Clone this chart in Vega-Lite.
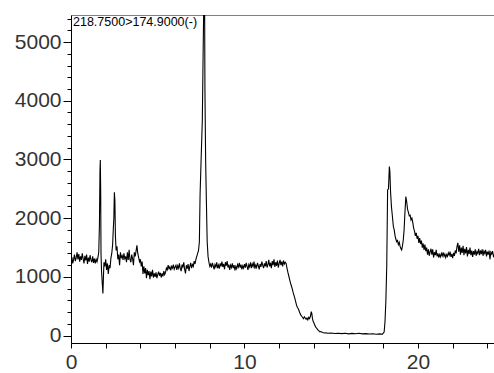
{
"$schema":"https://vega.github.io/schema/vega-lite/v6.json",
"width":424,"height":328,
"autosize":{"type":"none"},
"padding":{"left":71,"top":15,"right":0,"bottom":30},
"background":"white",
"config":{"view":{"stroke":"#808080","strokeWidth":1},
"axis":{"grid":false,"title":null,"domainColor":"#000","tickColor":"#000","labelFont":"Liberation Sans","labelFontSize":21,"labelColor":"#333","labelOverlap":false,"labelFlush":false,"format":"d","tickCount":200}},
"layer":[
{"data":{"values":[
{"t":0,"v":1250},{"t":0.05,"v":1340},{"t":0.1,"v":1230},{"t":0.15,"v":1300},{"t":0.2,"v":1380},{"t":0.25,"v":1270},{"t":0.3,"v":1330},{"t":0.35,"v":1420},{"t":0.4,"v":1300},{"t":0.45,"v":1390},{"t":0.5,"v":1260},{"t":0.55,"v":1350},{"t":0.6,"v":1290},{"t":0.65,"v":1400},{"t":0.7,"v":1310},{"t":0.75,"v":1230},{"t":0.8,"v":1360},{"t":0.85,"v":1280},{"t":0.9,"v":1380},{"t":0.95,"v":1220},{"t":1.0,"v":1330},{"t":1.05,"v":1260},{"t":1.1,"v":1370},{"t":1.15,"v":1290},{"t":1.2,"v":1250},{"t":1.25,"v":1350},{"t":1.3,"v":1240},{"t":1.35,"v":1310},{"t":1.4,"v":1230},{"t":1.45,"v":1300},{"t":1.5,"v":1260},{"t":1.55,"v":1330},{"t":1.6,"v":1420},{"t":1.64,"v":1900},{"t":1.67,"v":2800},{"t":1.69,"v":2990},{"t":1.71,"v":2500},{"t":1.73,"v":1400},{"t":1.76,"v":1100},{"t":1.8,"v":900},{"t":1.84,"v":720},{"t":1.87,"v":1000},{"t":1.9,"v":1250},{"t":1.95,"v":1180},{"t":2.0,"v":1300},{"t":2.05,"v":1120},{"t":2.1,"v":1230},{"t":2.15,"v":1050},{"t":2.2,"v":1200},{"t":2.25,"v":1150},{"t":2.3,"v":1320},{"t":2.35,"v":1400},{"t":2.4,"v":1550},{"t":2.44,"v":1830},{"t":2.47,"v":2000},{"t":2.5,"v":2440},{"t":2.53,"v":2300},{"t":2.56,"v":1700},{"t":2.6,"v":1450},{"t":2.65,"v":1520},{"t":2.7,"v":1300},{"t":2.75,"v":1380},{"t":2.8,"v":1200},{"t":2.85,"v":1420},{"t":2.9,"v":1330},{"t":2.95,"v":1360},{"t":3.0,"v":1290},{"t":3.05,"v":1400},{"t":3.1,"v":1310},{"t":3.15,"v":1350},{"t":3.2,"v":1250},{"t":3.25,"v":1420},{"t":3.3,"v":1290},{"t":3.35,"v":1460},{"t":3.4,"v":1300},{"t":3.45,"v":1250},{"t":3.5,"v":1380},{"t":3.55,"v":1310},{"t":3.6,"v":1200},{"t":3.65,"v":1420},{"t":3.7,"v":1350},{"t":3.75,"v":1440},{"t":3.8,"v":1540},{"t":3.85,"v":1400},{"t":3.9,"v":1330},{"t":3.95,"v":1260},{"t":4.0,"v":1300},{"t":4.05,"v":1180},{"t":4.1,"v":1260},{"t":4.15,"v":1050},{"t":4.2,"v":1180},{"t":4.25,"v":1060},{"t":4.3,"v":1150},{"t":4.35,"v":980},{"t":4.4,"v":1120},{"t":4.45,"v":1030},{"t":4.5,"v":1100},{"t":4.55,"v":960},{"t":4.6,"v":1090},{"t":4.65,"v":1010},{"t":4.7,"v":1120},{"t":4.75,"v":990},{"t":4.8,"v":1060},{"t":4.85,"v":1000},{"t":4.9,"v":1080},{"t":4.95,"v":980},{"t":5.0,"v":1040},{"t":5.05,"v":1090},{"t":5.1,"v":1020},{"t":5.15,"v":1070},{"t":5.2,"v":990},{"t":5.25,"v":1060},{"t":5.3,"v":1010},{"t":5.35,"v":1100},{"t":5.4,"v":1040},{"t":5.45,"v":1080},{"t":5.5,"v":1150},{"t":5.55,"v":1120},{"t":5.6,"v":1200},{"t":5.65,"v":1140},{"t":5.7,"v":1170},{"t":5.75,"v":1110},{"t":5.8,"v":1180},{"t":5.85,"v":1150},{"t":5.9,"v":1210},{"t":5.95,"v":1130},{"t":6.0,"v":1170},{"t":6.05,"v":1200},{"t":6.1,"v":1120},{"t":6.15,"v":1190},{"t":6.2,"v":1150},{"t":6.25,"v":1230},{"t":6.3,"v":1140},{"t":6.35,"v":1100},{"t":6.4,"v":1210},{"t":6.45,"v":1170},{"t":6.5,"v":1250},{"t":6.55,"v":1130},{"t":6.6,"v":1060},{"t":6.65,"v":1200},{"t":6.7,"v":1140},{"t":6.75,"v":1220},{"t":6.8,"v":1100},{"t":6.85,"v":1180},{"t":6.9,"v":1240},{"t":6.95,"v":1150},{"t":7.0,"v":1210},{"t":7.05,"v":1180},{"t":7.1,"v":1270},{"t":7.15,"v":1220},{"t":7.2,"v":1300},{"t":7.25,"v":1350},{"t":7.3,"v":1400},{"t":7.35,"v":1450},{"t":7.4,"v":1600},{"t":7.44,"v":2400},{"t":7.5,"v":3000},{"t":7.57,"v":3670},{"t":7.62,"v":4900},{"t":7.66,"v":5800},{"t":7.7,"v":5800},{"t":7.72,"v":4200},{"t":7.76,"v":3000},{"t":7.8,"v":2350},{"t":7.85,"v":1600},{"t":7.9,"v":1350},{"t":7.95,"v":1250},{"t":8.0,"v":1180},{"t":8.05,"v":1220},{"t":8.1,"v":1160},{"t":8.15,"v":1240},{"t":8.2,"v":1190},{"t":8.25,"v":1130},{"t":8.3,"v":1210},{"t":8.35,"v":1170},{"t":8.4,"v":1250},{"t":8.45,"v":1150},{"t":8.5,"v":1200},{"t":8.55,"v":1140},{"t":8.6,"v":1230},{"t":8.65,"v":1180},{"t":8.7,"v":1260},{"t":8.75,"v":1170},{"t":8.8,"v":1220},{"t":8.85,"v":1130},{"t":8.9,"v":1250},{"t":8.95,"v":1190},{"t":9.0,"v":1270},{"t":9.05,"v":1160},{"t":9.1,"v":1210},{"t":9.15,"v":1120},{"t":9.2,"v":1200},{"t":9.25,"v":1160},{"t":9.3,"v":1230},{"t":9.35,"v":1150},{"t":9.4,"v":1200},{"t":9.45,"v":1110},{"t":9.5,"v":1180},{"t":9.55,"v":1140},{"t":9.6,"v":1210},{"t":9.65,"v":1170},{"t":9.7,"v":1240},{"t":9.75,"v":1160},{"t":9.8,"v":1210},{"t":9.85,"v":1130},{"t":9.9,"v":1190},{"t":9.95,"v":1150},{"t":10.0,"v":1220},{"t":10.05,"v":1160},{"t":10.1,"v":1240},{"t":10.15,"v":1180},{"t":10.2,"v":1120},{"t":10.25,"v":1210},{"t":10.3,"v":1170},{"t":10.35,"v":1250},{"t":10.4,"v":1150},{"t":10.45,"v":1220},{"t":10.5,"v":1180},{"t":10.55,"v":1260},{"t":10.6,"v":1140},{"t":10.65,"v":1200},{"t":10.7,"v":1160},{"t":10.75,"v":1240},{"t":10.8,"v":1190},{"t":10.85,"v":1130},{"t":10.9,"v":1220},{"t":10.95,"v":1170},{"t":11.0,"v":1260},{"t":11.05,"v":1200},{"t":11.1,"v":1150},{"t":11.15,"v":1230},{"t":11.2,"v":1180},{"t":11.25,"v":1270},{"t":11.3,"v":1160},{"t":11.35,"v":1210},{"t":11.4,"v":1290},{"t":11.45,"v":1180},{"t":11.5,"v":1240},{"t":11.55,"v":1150},{"t":11.6,"v":1270},{"t":11.65,"v":1200},{"t":11.7,"v":1300},{"t":11.75,"v":1170},{"t":11.8,"v":1250},{"t":11.85,"v":1190},{"t":11.9,"v":1280},{"t":11.95,"v":1160},{"t":12.0,"v":1230},{"t":12.05,"v":1290},{"t":12.1,"v":1200},{"t":12.15,"v":1260},{"t":12.2,"v":1180},{"t":12.25,"v":1280},{"t":12.3,"v":1220},{"t":12.35,"v":1250},{"t":12.4,"v":1230},{"t":12.45,"v":1150},{"t":12.5,"v":1080},{"t":12.55,"v":1020},{"t":12.6,"v":960},{"t":12.65,"v":900},{"t":12.7,"v":850},{"t":12.75,"v":800},{"t":12.8,"v":740},{"t":12.85,"v":690},{"t":12.9,"v":640},{"t":12.95,"v":580},{"t":13.0,"v":520},{"t":13.05,"v":480},{"t":13.1,"v":460},{"t":13.15,"v":420},{"t":13.2,"v":380},{"t":13.25,"v":350},{"t":13.3,"v":330},{"t":13.35,"v":310},{"t":13.4,"v":290},{"t":13.45,"v":320},{"t":13.5,"v":300},{"t":13.55,"v":280},{"t":13.6,"v":300},{"t":13.65,"v":270},{"t":13.7,"v":310},{"t":13.75,"v":290},{"t":13.8,"v":330},{"t":13.85,"v":410},{"t":13.88,"v":380},{"t":13.92,"v":290},{"t":13.96,"v":240},{"t":14.0,"v":220},{"t":14.05,"v":180},{"t":14.1,"v":150},{"t":14.15,"v":130},{"t":14.2,"v":110},{"t":14.25,"v":90},{"t":14.3,"v":80},{"t":14.35,"v":65},{"t":14.4,"v":70},{"t":14.5,"v":55},{"t":14.6,"v":45},{"t":14.7,"v":50},{"t":14.8,"v":40},{"t":15.0,"v":45},{"t":15.2,"v":38},{"t":15.4,"v":42},{"t":15.6,"v":35},{"t":15.8,"v":40},{"t":16.0,"v":30},{"t":16.2,"v":38},{"t":16.4,"v":32},{"t":16.6,"v":40},{"t":16.8,"v":30},{"t":17.0,"v":35},{"t":17.2,"v":28},{"t":17.4,"v":33},{"t":17.6,"v":25},{"t":17.8,"v":30},{"t":17.95,"v":25},{"t":18.05,"v":60},{"t":18.1,"v":240},{"t":18.15,"v":600},{"t":18.2,"v":1180},{"t":18.25,"v":2480},{"t":18.3,"v":2500},{"t":18.35,"v":2880},{"t":18.38,"v":2800},{"t":18.42,"v":2450},{"t":18.47,"v":2200},{"t":18.52,"v":2050},{"t":18.58,"v":1860},{"t":18.63,"v":1800},{"t":18.68,"v":1700},{"t":18.72,"v":1650},{"t":18.77,"v":1600},{"t":18.82,"v":1620},{"t":18.87,"v":1550},{"t":18.92,"v":1590},{"t":18.97,"v":1520},{"t":19.02,"v":1480},{"t":19.06,"v":1460},{"t":19.1,"v":1520},{"t":19.15,"v":1620},{"t":19.2,"v":1800},{"t":19.25,"v":2100},{"t":19.3,"v":2370},{"t":19.35,"v":2280},{"t":19.4,"v":2150},{"t":19.45,"v":2100},{"t":19.5,"v":2040},{"t":19.55,"v":2050},{"t":19.6,"v":1970},{"t":19.65,"v":2000},{"t":19.7,"v":1930},{"t":19.75,"v":1830},{"t":19.8,"v":1780},{"t":19.85,"v":1700},{"t":19.9,"v":1750},{"t":19.95,"v":1650},{"t":20.0,"v":1700},{"t":20.05,"v":1580},{"t":20.1,"v":1660},{"t":20.15,"v":1560},{"t":20.2,"v":1620},{"t":20.25,"v":1500},{"t":20.3,"v":1570},{"t":20.35,"v":1460},{"t":20.4,"v":1550},{"t":20.45,"v":1440},{"t":20.5,"v":1500},{"t":20.55,"v":1380},{"t":20.6,"v":1470},{"t":20.65,"v":1360},{"t":20.7,"v":1430},{"t":20.75,"v":1480},{"t":20.8,"v":1380},{"t":20.85,"v":1470},{"t":20.9,"v":1330},{"t":20.95,"v":1420},{"t":21.0,"v":1370},{"t":21.05,"v":1460},{"t":21.1,"v":1350},{"t":21.15,"v":1400},{"t":21.2,"v":1330},{"t":21.25,"v":1380},{"t":21.3,"v":1340},{"t":21.35,"v":1400},{"t":21.4,"v":1360},{"t":21.45,"v":1420},{"t":21.5,"v":1350},{"t":21.55,"v":1390},{"t":21.6,"v":1330},{"t":21.65,"v":1380},{"t":21.7,"v":1350},{"t":21.75,"v":1410},{"t":21.8,"v":1370},{"t":21.85,"v":1430},{"t":21.9,"v":1340},{"t":21.95,"v":1390},{"t":22.0,"v":1320},{"t":22.05,"v":1410},{"t":22.1,"v":1360},{"t":22.15,"v":1450},{"t":22.2,"v":1400},{"t":22.25,"v":1520},{"t":22.3,"v":1580},{"t":22.35,"v":1430},{"t":22.4,"v":1540},{"t":22.45,"v":1380},{"t":22.5,"v":1500},{"t":22.55,"v":1410},{"t":22.6,"v":1530},{"t":22.65,"v":1370},{"t":22.7,"v":1480},{"t":22.75,"v":1400},{"t":22.8,"v":1510},{"t":22.85,"v":1350},{"t":22.9,"v":1460},{"t":22.95,"v":1390},{"t":23.0,"v":1500},{"t":23.05,"v":1370},{"t":23.1,"v":1450},{"t":23.15,"v":1340},{"t":23.2,"v":1440},{"t":23.25,"v":1380},{"t":23.3,"v":1470},{"t":23.35,"v":1360},{"t":23.4,"v":1430},{"t":23.45,"v":1400},{"t":23.5,"v":1480},{"t":23.55,"v":1370},{"t":23.6,"v":1450},{"t":23.65,"v":1390},{"t":23.7,"v":1470},{"t":23.75,"v":1360},{"t":23.8,"v":1440},{"t":23.85,"v":1400},{"t":23.9,"v":1460},{"t":23.95,"v":1350},{"t":24.0,"v":1430},{"t":24.05,"v":1380},{"t":24.1,"v":1450},{"t":24.15,"v":1300},{"t":24.2,"v":1420},{"t":24.25,"v":1390},{"t":24.3,"v":1440},{"t":24.35,"v":1350},{"t":24.44,"v":1400}
]},
"mark":{"type":"line","color":"#000","strokeWidth":1.1,"clip":true},
"encoding":{
"x":{"field":"t","type":"quantitative","scale":{"domain":[0,24.44],"nice":false,"zero":false},
"axis":{"values":[0,2,4,6,8,10,12,14,16,18,20,22,24],"tickCount":200,"labelExpr":"datum.value % 10 === 0 ? datum.label : ''","tickSize":5,"labelPadding":3}},
"y":{"field":"v","type":"quantitative","scale":{"domain":[-125,5460],"nice":false,"zero":false},
"axis":{"values":[0,200,400,600,800,1000,1200,1400,1600,1800,2000,2200,2400,2600,2800,3000,3200,3400,3600,3800,4000,4200,4400,4600,4800,5000,5200,5400],"tickCount":200,"labelExpr":"datum.value % 1000 === 0 ? datum.label : ''","tickSize":{"condition":{"test":"datum.value % 1000 === 0","value":8},"value":4},"labelPadding":2}}
}},
{"data":{"values":[{}]},
"mark":{"type":"text","align":"left","baseline":"top","dx":2,"dy":1,"font":"Liberation Sans","fontSize":12.5,"color":"#000"},
"encoding":{"x":{"datum":0},"y":{"datum":5460},"text":{"value":"218.7500>174.9000(-)"}}}
]
}
